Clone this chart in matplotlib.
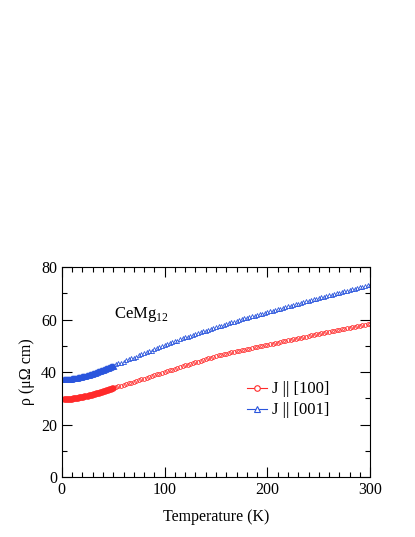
import numpy as np
import matplotlib
matplotlib.use("Agg")
import matplotlib.pyplot as plt
from matplotlib.ticker import MultipleLocator
from matplotlib.lines import Line2D

plt.rcParams['font.family'] = ['Liberation Serif', 'DejaVu Serif']
plt.rcParams['mathtext.fontset'] = 'custom'
plt.rcParams['mathtext.rm'] = 'Liberation Serif'

# low temperature part, 1 K steps
t_low = list(range(2, 51))
rho100_low = [29.70, 29.71, 29.72, 29.74, 29.76, 29.79, 29.82, 29.86, 29.90, 29.95,
              30.00, 30.06, 30.12, 30.18, 30.25, 30.32, 30.39, 30.47, 30.55, 30.63,
              30.72, 30.81, 30.90, 30.99, 31.09, 31.19, 31.29, 31.39, 31.50, 31.61,
              31.72, 31.83, 31.94, 32.05, 32.17, 32.29, 32.41, 32.53, 32.65, 32.77,
              32.90, 33.02, 33.15, 33.27, 33.40, 33.52, 33.65, 33.77, 33.90]
rho001_low = [37.30, 37.31, 37.33, 37.35, 37.38, 37.41, 37.45, 37.50, 37.55, 37.61,
              37.67, 37.74, 37.81, 37.89, 37.97, 38.06, 38.15, 38.25, 38.35, 38.45,
              38.56, 38.67, 38.78, 38.90, 39.02, 39.14, 39.27, 39.40, 39.53, 39.66,
              39.80, 39.94, 40.08, 40.22, 40.36, 40.51, 40.66, 40.81, 40.96, 41.11,
              41.26, 41.41, 41.56, 41.71, 41.86, 42.01, 42.16, 42.31, 42.46]

# high temperature part, 2.5 K steps from 52.5 to 300 K
t_high = [52.5 + 2.5 * i for i in range(100)]
rho100_high = [34.2, 34.5, 34.8, 35.1, 35.4, 35.7, 36.0, 36.3, 36.6, 36.9,
               37.2, 37.5, 37.8, 38.1, 38.5, 38.8, 39.1, 39.4, 39.7, 40.0,
               40.3, 40.6, 40.9, 41.2, 41.6, 41.9, 42.2, 42.5, 42.8, 43.1,
               43.4, 43.7, 44.0, 44.3, 44.6, 44.9, 45.2, 45.5, 45.8, 46.0,
               46.3, 46.5, 46.8, 47.0, 47.3, 47.5, 47.7, 47.9, 48.1, 48.3,
               48.5, 48.7, 48.9, 49.2, 49.4, 49.6, 49.8, 50.0, 50.2, 50.4,
               50.6, 50.8, 51.0, 51.2, 51.5, 51.7, 51.9, 52.1, 52.3, 52.5,
               52.7, 52.9, 53.1, 53.3, 53.5, 53.8, 54.0, 54.2, 54.4, 54.6,
               54.8, 55.0, 55.2, 55.4, 55.6, 55.8, 55.9, 56.1, 56.3, 56.5,
               56.7, 56.9, 57.1, 57.3, 57.5, 57.6, 57.8, 58.0, 58.2, 58.4]
rho001_high = [42.9, 43.3, 43.6, 44.0, 44.4, 44.8, 45.2, 45.5, 45.9, 46.3,
               46.7, 47.1, 47.5, 47.9, 48.2, 48.6, 49.0, 49.4, 49.8, 50.2,
               50.6, 50.9, 51.3, 51.7, 52.0, 52.4, 52.8, 53.2, 53.5, 53.9,
               54.2, 54.5, 54.8, 55.2, 55.5, 55.8, 56.1, 56.5, 56.8, 57.1,
               57.4, 57.7, 58.0, 58.3, 58.6, 58.9, 59.2, 59.5, 59.8, 60.1,
               60.4, 60.7, 60.9, 61.2, 61.5, 61.8, 62.1, 62.3, 62.6, 62.9,
               63.2, 63.4, 63.7, 64.0, 64.2, 64.5, 64.8, 65.1, 65.3, 65.6,
               65.9, 66.1, 66.4, 66.6, 66.9, 67.2, 67.4, 67.7, 67.9, 68.2,
               68.5, 68.7, 69.0, 69.2, 69.5, 69.7, 70.0, 70.3, 70.5, 70.8,
               71.0, 71.3, 71.5, 71.8, 72.0, 72.3, 72.5, 72.8, 73.0, 73.3]

red = '#ff2a2a'
blue = '#2a55dd'

fig = plt.figure(figsize=(4.15, 5.37), dpi=100)
ax = fig.add_axes([0.149, 0.1117, 0.743, 0.391])

# dense low-T data looks solid, sparser high-T data shows open symbols
ax.plot(t_low, rho100_low, ls='none', marker='o', ms=3.0, mfc='none', mec=red, mew=1.5)
ax.plot(t_high, rho100_high, ls='none', marker='o', ms=2.7, mfc='none', mec=red, mew=0.6)
ax.plot(t_low, rho001_low, ls='none', marker='^', ms=3.2, mfc='none', mec=blue, mew=1.5)
ax.plot(t_high, rho001_high, ls='none', marker='^', ms=2.9, mfc='none', mec=blue, mew=0.6)

ax.set_xlim(0, 300)
ax.set_ylim(0, 80)
ax.xaxis.set_major_locator(MultipleLocator(100))
ax.xaxis.set_minor_locator(MultipleLocator(10))
ax.yaxis.set_major_locator(MultipleLocator(20))
ax.yaxis.set_minor_locator(MultipleLocator(10))
ax.tick_params(which='both', direction='in', top=True, right=True, labelsize=11.5)
ax.tick_params(which='major', length=7, width=0.8)
ax.tick_params(which='minor', length=3.5, width=0.8)
for s in ax.spines.values():
    s.set_linewidth(0.8)

ax.set_xlabel('Temperature (K)', fontsize=11.5, labelpad=8)
ax.set_ylabel('ρ (μΩ cm)', fontsize=11.5, labelpad=4)

ax.text(0.17, 0.755, 'CeMg$_{12}$', transform=ax.transAxes, fontsize=12)

handles = [Line2D([], [], color=red, lw=0.8, marker='o', ms=4, mfc='white', mec=red, mew=0.8),
           Line2D([], [], color=blue, lw=0.8, marker='^', ms=4, mfc='white', mec=blue, mew=0.8)]
ax.legend(handles, ['J || [100]', 'J || [001]'], loc='upper left',
          bbox_to_anchor=(0.575, 0.495), frameon=False, fontsize=12,
          handlelength=1.15, handletextpad=0.3, labelspacing=0.3, borderpad=0)

fig.savefig('out.png', dpi=100)
